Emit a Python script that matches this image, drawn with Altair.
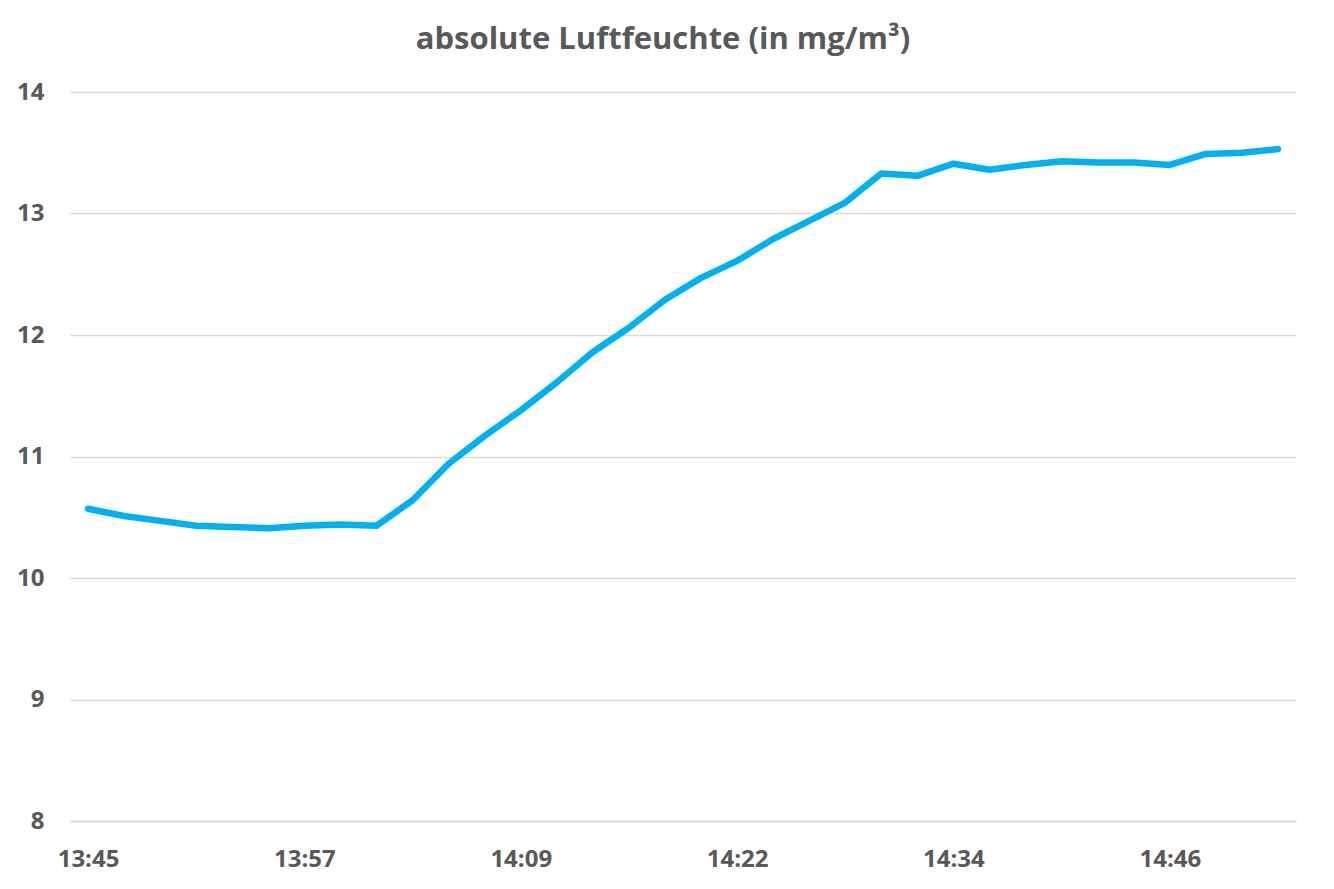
import altair as alt
import pandas as pd

# Messzeitpunkte (ca. alle 2 Minuten)
zeiten = [
    "13:45", "13:47", "13:49", "13:51", "13:53", "13:55",
    "13:57", "13:59", "14:01", "14:03", "14:05", "14:07",
    "14:09", "14:11", "14:13", "14:15", "14:18", "14:20",
    "14:22", "14:24", "14:26", "14:28", "14:30", "14:32",
    "14:34", "14:36", "14:38", "14:40", "14:42", "14:44",
    "14:46", "14:48", "14:50", "14:52",
]

# absolute Luftfeuchte in mg/m³
feuchte = [
    10.57, 10.51, 10.47, 10.43, 10.42, 10.41,
    10.43, 10.44, 10.43, 10.64, 10.94, 11.17,
    11.38, 11.61, 11.86, 12.06, 12.29, 12.47,
    12.61, 12.79, 12.94, 13.09, 13.33, 13.31,
    13.41, 13.36, 13.40, 13.43, 13.42, 13.42,
    13.40, 13.49, 13.50, 13.53,
]

achsen_labels = ["13:45", "13:57", "14:09", "14:22", "14:34", "14:46"]

df = pd.DataFrame({"zeit": zeiten, "wert": feuchte})

grau = "#595959"
schrift = "Open Sans"

chart = alt.Chart(df).mark_line(
    color="#00B0F0",
    strokeWidth=6.5,
    strokeCap="round",
    strokeJoin="round",
).encode(
    x=alt.X(
        "zeit:O",
        sort=None,
        title=None,
        scale=alt.Scale(type="point", padding=0.5),
        axis=alt.Axis(
            values=achsen_labels,
            labelAngle=0,
            ticks=False,
            tickSize=0,
            domain=True,
            domainColor="#D9D9D9",
            domainWidth=1.5,
            grid=False,
            labelPadding=26,
            labelBaseline="top",
        ),
    ),
    y=alt.Y(
        "wert:Q",
        title=None,
        scale=alt.Scale(domain=[8, 14], nice=False, zero=False),
        axis=alt.Axis(
            values=[8, 9, 10, 11, 12, 13, 14],
            ticks=False,
            tickSize=0,
            domain=False,
            grid=True,
            gridColor="#D9D9D9",
            gridWidth=1.5,
            labelPadding=26,
        ),
    ),
).properties(
    width=1226,
    height=729,
    autosize=alt.AutoSizeParams(type="none"),
    padding={"left": 62, "top": 84, "right": 30, "bottom": 60},
    title=alt.TitleParams(
        "absolute Luftfeuchte (in mg/m³)",
        anchor="middle",
        dx=-20,
        offset=24,
    ),
).configure_axis(
    labelFont=schrift,
    labelFontSize=24,
    labelFontWeight="bold",
    labelColor=grau,
).configure_title(
    font=schrift,
    fontSize=31,
    fontWeight="bold",
    color=grau,
).configure_view(
    stroke=None,
)

chart.save("out.html", embed_options={"renderer": "svg", "actions": False})
